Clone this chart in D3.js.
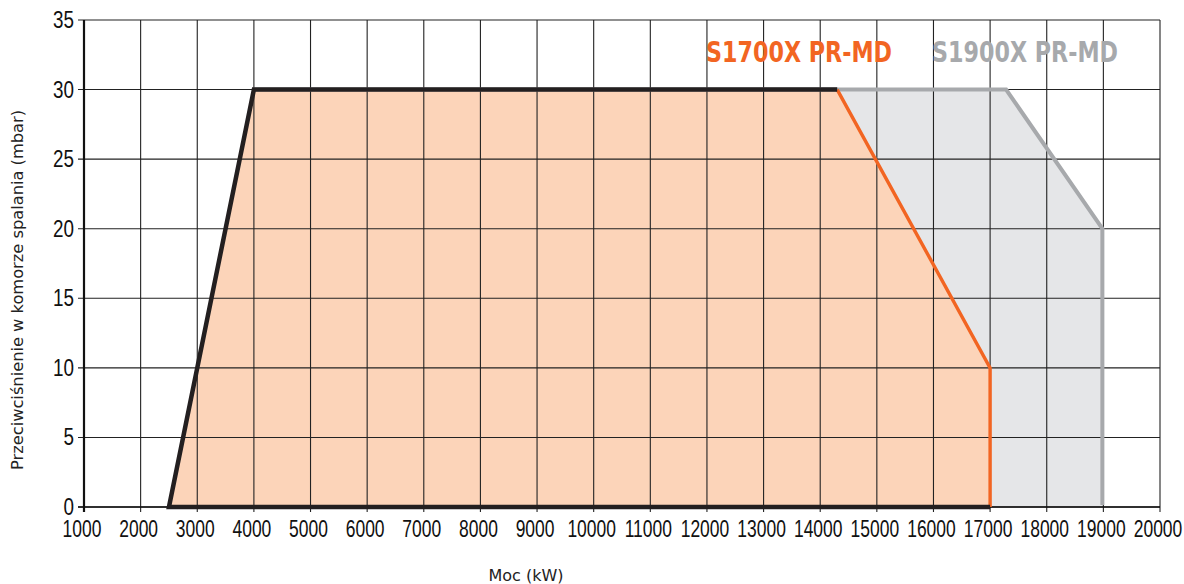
<!DOCTYPE html>
<html>
<head>
<meta charset="utf-8">
<script src="https://cdn.jsdelivr.net/npm/d3@7"></script>
<style>
  body { margin: 0; background: #fff; }
</style>
</head>
<body>
<script>
// working range of the burners, power (kW) against back pressure (mbar)
let xTicks = d3.range(1000, 20001, 1000);
let yTicks = [0, 5, 10, 15, 20, 25, 30, 35];

let s1700Power = [2500, 4000, 14300, 17000, 17000];
let s1700Press = [0, 30, 30, 10, 0];

let s1900Power = [2500, 4000, 17300, 19000, 19000];
let s1900Press = [0, 30, 30, 20, 0];

let legendNames = ['S1700X PR-MD', 'S1900X PR-MD'];

let svg = d3.select('body').append('svg').attr('width', 1184).attr('height', 584);

let x = d3.scaleLinear().domain([1000, 20000]).range([84, 1160]);
let y = d3.scaleLinear().domain([0, 35]).range([507, 20]);

let pts = (px, py) => px.map((v, i) => [x(v), y(py[i])]);
let line = d3.line();

let p1700 = pts(s1700Power, s1700Press);
let p1900 = pts(s1900Power, s1900Press);

// fills first, grid goes over them
svg.append('path').attr('d', line(p1900) + 'Z').attr('fill', '#e5e6e8');
svg.append('path').attr('d', line(p1700) + 'Z').attr('fill', '#fcd4b9');

let grid = svg.append('g');
grid.selectAll('.v').data(xTicks).enter().append('line')
  .attr('x1', d => x(d)).attr('x2', d => x(d))
  .attr('y1', y(35)).attr('y2', y(0) + 5)
  .attr('stroke', '#222').attr('stroke-width', 1.1);
grid.selectAll('.h').data(yTicks).enter().append('line')
  .attr('x1', x(1000) - 6).attr('x2', x(20000))
  .attr('y1', d => y(d)).attr('y2', d => y(d))
  .attr('stroke', '#222').attr('stroke-width', 1.1);
svg.append('line').attr('x1', x(1000)).attr('x2', x(1000))
  .attr('y1', y(35)).attr('y2', y(0) + 5)
  .attr('stroke', '#111').attr('stroke-width', 2.2);
svg.append('line').attr('x1', x(1000) - 6).attr('x2', x(20000))
  .attr('y1', y(0)).attr('y2', y(0))
  .attr('stroke', '#111').attr('stroke-width', 1.6);

// outlines
svg.append('path')
  .attr('d', line([p1900[1], p1900[2], p1900[3], p1900[4]].map((p, i) => i == 3 ? [p[0], p[1] - 2] : p)))
  .attr('fill', 'none').attr('stroke', '#a7a9ac').attr('stroke-width', 4)
  .attr('transform', 'translate(-1,0)');
svg.append('path').attr('d', line([p1700[2], p1700[3], p1700[4]]))
  .attr('fill', 'none').attr('stroke', '#f26522').attr('stroke-width', 3.4);
svg.append('path').attr('d', line([p1700[4], p1700[0], p1700[1], p1700[2]]))
  .attr('fill', 'none').attr('stroke', '#231f20').attr('stroke-width', 4.5)
  .attr('stroke-linejoin', 'miter');

// tick labels (narrow face, so squeeze them)
svg.selectAll('.yl').data(yTicks).enter().append('text')
  .attr('transform', d => 'translate(74,' + (y(d) + 8) + ') scale(0.82,1)')
  .attr('text-anchor', 'end')
  .attr('font-family', 'Liberation Sans, Arial, sans-serif')
  .attr('font-size', '23px').attr('fill', '#111')
  .text(d => d);
svg.selectAll('.xl').data(xTicks).enter().append('text')
  .attr('transform', d => 'translate(' + (x(d) - 2) + ',537) scale(0.76,1)')
  .attr('text-anchor', 'middle')
  .attr('font-family', 'Liberation Sans, Arial, sans-serif')
  .attr('font-size', '23px').attr('fill', '#111')
  .text(d => d);

// axis titles
svg.append('text')
  .attr('transform', 'translate(23,290) rotate(-90)')
  .attr('text-anchor', 'middle')
  .attr('font-family', 'DejaVu Sans, Verdana, sans-serif')
  .attr('font-size', '15px').attr('fill', '#222')
  .attr('textLength', 360).attr('lengthAdjust', 'spacingAndGlyphs')
  .text('Przeciwciśnienie w komorze spalania (mbar)');
svg.append('text')
  .attr('x', 526).attr('y', 581)
  .attr('text-anchor', 'middle')
  .attr('font-family', 'DejaVu Sans, Verdana, sans-serif')
  .attr('font-size', '16px').attr('fill', '#222')
  .text('Moc (kW)');

// legend
let legendX = [706, 932];
let legendColor = ['#f26522', '#a7a9ac'];
svg.selectAll('.lg').data(legendNames).enter().append('text')
  .attr('x', (d, i) => legendX[i]).attr('y', 62)
  .attr('font-family', 'DejaVu Sans, sans-serif')
  .attr('font-weight', 'bold')
  .attr('font-size', '29px')
  .attr('fill', (d, i) => legendColor[i])
  .attr('textLength', 186).attr('lengthAdjust', 'spacingAndGlyphs')
  .text(d => d);
</script>
</body>
</html>
